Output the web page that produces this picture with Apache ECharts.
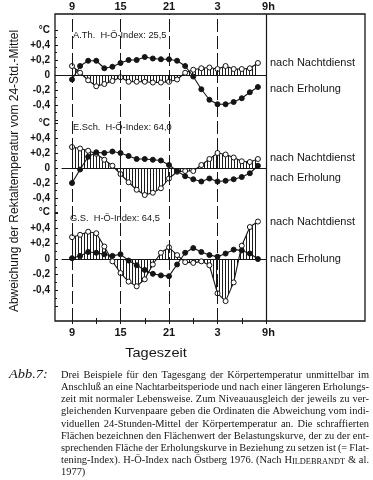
<!DOCTYPE html>
<html><head><meta charset="utf-8">
<script src="https://cdn.jsdelivr.net/npm/echarts@6/dist/echarts.min.js"></script>
<style>html,body{margin:0;padding:0;background:#fff}#c{width:373px;height:480px}</style>
</head><body><div id="c"></div><script>
// ---- data ----
const hours = [9,10,11,12,13,14,15,16,17,18,19,20,21,22,23,24,25,26,27,28,29,30,31,32];
const xTickLabels = {9:'9',15:'15',21:'21',27:'3',33:'9h'};
const dashedHours = [9,15,21,27];
const solidHours = [33];
const yTickLabels = {'0.6':'°C','0.4':'+0,4','0.2':'+0,2','0':'0','-0.2':'-0,2','-0.4':'-0,4'};
const panelTitles = ['A.Th.  H-Ö-Index: 25,5','E.Sch.  H-Ö-Index: 64,0','G.S.  H-Ö-Index: 64,5'];
const seriesNames = ['nach Nachtdienst','nach Erholung'];
const athNacht = [0.12,0.03,-0.07,-0.15,-0.12,-0.08,-0.03,-0.09,-0.09,-0.09,-0.10,-0.10,-0.09,-0.06,0.03,0.07,0.09,0.10,0.08,0.12,0.08,0.08,0.09,0.16];
const athErh   = [-0.06,0.12,0.19,0.19,0.09,0.11,0.16,0.20,0.20,0.24,0.22,0.21,0.21,0.19,0.12,-0.02,-0.19,-0.33,-0.39,-0.39,-0.36,-0.31,-0.23,-0.16];
const eschNacht = [0.28,0.26,0.23,0.19,0.11,0.03,-0.08,-0.19,-0.29,-0.36,-0.33,-0.27,-0.14,-0.05,-0.04,-0.04,0.04,0.12,0.20,0.18,0.14,0.09,0.08,0.12];
const eschErh   = [-0.20,-0.02,0.15,0.21,0.20,0.22,0.20,0.16,0.12,0.12,0.11,0.10,0.04,-0.04,-0.11,-0.15,-0.18,-0.14,-0.18,-0.17,-0.15,-0.12,-0.07,0.03];
const gsNacht = [0.28,0.31,0.35,0.33,0.16,-0.03,-0.18,-0.29,-0.35,-0.26,-0.07,0.08,0.15,0.05,-0.04,-0.05,-0.03,-0.08,-0.44,-0.54,-0.30,0.17,0.41,0.48];
const gsErh   = [0.01,0.04,0.09,0.08,0.06,0.04,0.06,-0.02,-0.08,-0.14,-0.19,-0.21,-0.22,-0.07,0.08,0.14,0.09,0.05,0.03,0.07,0.12,0.11,0.07,0.00];
const captionLines = [
 'Drei Beispiele für den Tagesgang der Körpertemperatur unmittelbar im',
 'Anschluß an eine Nachtarbeitsperiode und nach einer längeren Erholungs-',
 'zeit mit normaler Lebensweise. Zum Niveauausgleich der jeweils zu ver-',
 'gleichenden Kurvenpaare geben die Ordinaten die Abweichung vom indi-',
 'viduellen 24-Stunden-Mittel der Körpertemperatur an. Die schraffierten',
 'Flächen bezeichnen den Flächenwert der Belastungskurve, der zu der ent-',
 'sprechenden Fläche der Erholungskurve in Beziehung zu setzen ist (= Flat-',
 'tening-Index). H-Ö-Index nach Östberg 1976. (Nach HILDEBRANDT & al.',
 '1977)'
];
const captionLabel = 'Abb.7:';
const yTitle = 'Abweichung der Rektaltemperatur vom 24-Std.-Mittel';
const xTitle = 'Tageszeit';

// ---- layout / style ----
const INK = '#151515';
const pxPerHour = 194/24;
const panelGeo = [
  {top:30, height:90, left:55, off:0, titleX:73, titleY:35, lab:[63,89]},
  {top:123, height:90, left:62, off:7, titleX:73, titleY:127, lab:[158,178]},
  {top:212.2, height:93.6, left:62, off:7, titleX:70, titleY:218, lab:[222,259]}
];
const panelData = [[athNacht, athErh],[eschNacht, eschErh],[gsNacht, gsErh]];

const hatch = document.createElement('canvas'); hatch.width = 3; hatch.height = 4;
const hctx = hatch.getContext('2d'); hctx.fillStyle = '#1a1a1a'; hctx.fillRect(0,0,1,4);
const hatchPattern = {image: hatch, repeat: 'repeat'};

const grids = [
  {left:55, top:14, width:310, height:307, show:true, borderColor:INK, borderWidth:1.3, backgroundColor:'transparent'},
  {left:72, top:14, width:194, height:307}
];
const xLabelStyle = {color:INK, fontSize:11, fontWeight:'bold', fontFamily:'Liberation Sans',
  formatter:v => v===33 ? '{h|9h}' : (xTickLabels[v]||''),
  rich:{h:{padding:[0,0,0,5], fontSize:11, fontWeight:'bold', fontFamily:'Liberation Sans', color:INK}}};
const xAxes = [
  {gridIndex:0, type:'value', min:0, max:1, show:false},
  {gridIndex:1, type:'value', position:'top', min:9, max:33, interval:3,
   axisLine:{show:false}, splitLine:{show:false},
   axisTick:{show:true, inside:true, length:3, lineStyle:{color:INK, width:1}},
   axisLabel:Object.assign({margin:2}, xLabelStyle)},
  {gridIndex:1, type:'value', position:'bottom', min:9, max:33, interval:3,
   axisLine:{show:false, onZero:false}, splitLine:{show:false},
   axisTick:{show:true, inside:true, length:3, lineStyle:{color:INK, width:1}},
   axisLabel:Object.assign({margin:6}, xLabelStyle)}
];
const yAxes = [
  {gridIndex:0, type:'value', min:0, max:1, show:false},
  {gridIndex:1, type:'value', min:0, max:1, show:false}
];
const series = [{
  type:'line', xAxisIndex:1, yAxisIndex:1, data:[], silent:true,
  markLine:{silent:true, symbol:['none','none'], label:{show:false}, animation:false,
    lineStyle:{color:INK, width:1, type:[13,4]},
    data: dashedHours.map(h=>({xAxis:h})).concat(solidHours.map(h=>({xAxis:h, lineStyle:{type:'solid', width:1.2, color:INK}})))}
}];
const graphics = [];

panelGeo.forEach((g,i)=>{
  grids.push({left:g.left, top:g.top, width:266-g.left, height:g.height});
  xAxes.push({gridIndex:2+i, type:'value', min:9-(72-g.left)/pxPerHour, max:33,
    axisLine:{show:true, onZero:true, lineStyle:{color:INK, width:1}},
    axisTick:{show:false}, axisLabel:{show:false}, splitLine:{show:false}});
  yAxes.push({gridIndex:2+i, type:'value', min:-0.6, max:0.6, interval:0.2, offset:g.off,
    axisLine:{show:false}, splitLine:{show:false},
    axisTick:{show:true, inside:true, length:3, lineStyle:{color:INK}},
    minorTick:{show:true, splitNumber:2, length:2, lineStyle:{color:INK}},
    axisLabel:{margin:5, color:INK, fontSize:10, fontWeight:'bold', fontFamily:'Liberation Sans',
      formatter:v => { const k = String(Math.round(v*10)/10); return yTickLabels[k] || ''; }}});
  const [nacht, erh] = panelData[i];
  series.push({
    name:seriesNames[0], type:'line', xAxisIndex:3+i, yAxisIndex:2+i, z:3,
    data: hours.map((h,j)=>[h, nacht[j]]),
    symbol:'circle', symbolSize:5, showAllSymbol:true,
    itemStyle:{color:'#fff', borderColor:INK, borderWidth:1},
    lineStyle:{color:INK, width:1.1},
    areaStyle:{color:hatchPattern, opacity:1},
    emphasis:{disabled:true}
  });
  series.push({
    name:seriesNames[1], type:'line', xAxisIndex:3+i, yAxisIndex:2+i, z:4,
    data: hours.map((h,j)=>[h, erh[j]]),
    symbol:'circle', symbolSize:5, showAllSymbol:true,
    itemStyle:{color:INK, borderColor:INK, borderWidth:1},
    lineStyle:{color:INK, width:1.1},
    emphasis:{disabled:true}
  });
  graphics.push({type:'text', x:g.titleX, y:g.titleY, silent:true,
    style:{text:panelTitles[i], font:'9.3px "Liberation Sans"', fill:INK, textVerticalAlign:'middle'}});
  graphics.push({type:'text', x:270, y:g.lab[0], silent:true,
    style:{text:seriesNames[0], font:'11px "Liberation Sans"', fill:INK, textVerticalAlign:'middle'}});
  graphics.push({type:'text', x:270, y:g.lab[1], silent:true,
    style:{text:seriesNames[1], font:'11px "Liberation Sans"', fill:INK, textVerticalAlign:'middle'}});
});

graphics.push({type:'text', x:15, y:171, rotation:Math.PI/2, silent:true,
  style:{text:yTitle, font:'12px "Liberation Sans"', fill:INK, textAlign:'center', textVerticalAlign:'middle'}});
graphics.push({type:'text', x:156, y:353, scaleX:1.12, silent:true,
  style:{text:xTitle, font:'13px "Liberation Sans"', fill:INK, textAlign:'center', textVerticalAlign:'middle'}});

// ---- caption, justified ----
const mctx = document.createElement('canvas').getContext('2d');
const FAM = '"Liberation Serif"';
function mw(t, s){ mctx.font = s+'px '+FAM; return mctx.measureText(t).width; }
const SC = 'HILDEBRANDT';
function wordW(w, s){ return w===SC ? mw('H',s)+mw(w.slice(1),s*0.8) : mw(w,s); }
const capLeft = 61, capRight = 369, capW = capRight-capLeft;
const capSize = 10.8;
let maxNat = 0;
captionLines.forEach(l=>{ const ws=l.split(' '); const n = ws.reduce((a,w)=>a+wordW(w,capSize),0)+mw(' ',capSize)*0.8*(ws.length-1); maxNat=Math.max(maxNat,n); });
const sx = Math.min(1, capW/maxNat);
captionLines.forEach((l,li)=>{
  const y = 375 + li*12.2;
  const ws = l.split(' ');
  const tot = ws.reduce((a,w)=>a+wordW(w,capSize)*sx,0);
  const last = li===captionLines.length-1;
  const gap = last||ws.length<2 ? mw(' ',capSize)*sx : (capW-tot)/(ws.length-1);
  let x = capLeft;
  ws.forEach(w=>{
    if (w===SC) {
      graphics.push({type:'text', x:x, y:y, scaleX:sx, silent:true, style:{text:'{a|H}{b|'+w.slice(1)+'}', fill:INK, textVerticalAlign:'middle',
        rich:{a:{fontSize:capSize, fontFamily:'Liberation Serif', fill:INK, verticalAlign:'bottom'},
              b:{fontSize:capSize*0.8, fontFamily:'Liberation Serif', fill:INK, verticalAlign:'bottom'}}}});
    } else {
      graphics.push({type:'text', x:x, y:y, scaleX:sx, silent:true, style:{text:w, font:capSize+'px '+FAM, fill:INK, textVerticalAlign:'middle'}});
    }
    x += wordW(w,capSize)*sx+gap;
  });
});
graphics.push({type:'text', x:9, y:375, scaleX:1.2, silent:true, style:{text:captionLabel, font:'italic 12px '+FAM, fill:INK, textVerticalAlign:'middle'}});

const chart = echarts.init(document.getElementById('c'), null, {renderer:'canvas'});
chart.setOption({
  animation:false, backgroundColor:'#fff',
  grid:grids, xAxis:xAxes, yAxis:yAxes, series:series, graphic:graphics
});
</script></body></html>
